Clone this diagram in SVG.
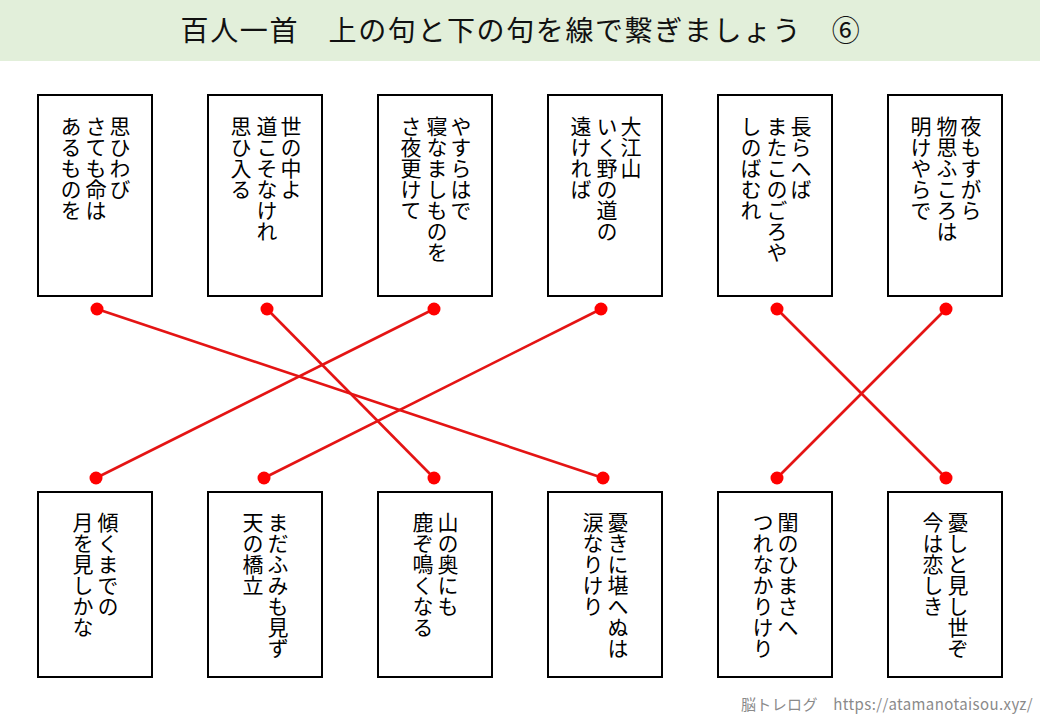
<svg xmlns="http://www.w3.org/2000/svg" width="1040" height="720" viewBox="0 0 1040 720">
<style>
.card{fill:#fff;stroke:#000;stroke-width:2}
.v{font-family:"Noto Sans CJK JP","Noto Sans CJK SC",sans-serif;font-size:21px;fill:#000;writing-mode:vertical-rl;}
.title{font-family:"Noto Sans CJK JP",sans-serif;font-size:28px;letter-spacing:1.6px;fill:#111}
.foot{font-family:"Noto Sans CJK JP",sans-serif;font-size:15px;letter-spacing:0.4px;fill:#8a8a8a}
.ln{stroke:#e41414;stroke-width:2.6;fill:none}
.dot{fill:#f00}
</style>
<rect width="1040" height="720" fill="#fff"/>
<rect x="0" y="0" width="1040" height="61" fill="#e2efda"/>
<text class="title" x="521" y="41" text-anchor="middle" xml:space="preserve">百人一首　上の句と下の句を線で繋ぎましょう　⑥</text>

<g id="top1"><rect class="card" x="38" y="95" width="114" height="201"/>
<text class="v" x="120" y="116">思ひわび</text><text class="v" x="96" y="116">さても命は</text><text class="v" x="71" y="116">あるものを</text></g>
<g id="top2"><rect class="card" x="208" y="95" width="114" height="201"/>
<text class="v" x="291" y="116">世の中よ</text><text class="v" x="267" y="116">道こそなけれ</text><text class="v" x="241" y="116">思ひ入る</text></g>
<g id="top3"><rect class="card" x="378" y="95" width="114" height="201"/>
<text class="v" x="461" y="116">やすらはで</text><text class="v" x="437" y="116">寝なましものを</text><text class="v" x="411" y="116">さ夜更けて</text></g>
<g id="top4"><rect class="card" x="548" y="95" width="114" height="201"/>
<text class="v" x="631" y="116">大江山</text><text class="v" x="607" y="116">いく野の道の</text><text class="v" x="581" y="116">遠ければ</text></g>
<g id="top5"><rect class="card" x="718" y="95" width="114" height="201"/>
<text class="v" x="801" y="116">長らへば</text><text class="v" x="777" y="116">またこのごろや</text><text class="v" x="751" y="116">しのばむれ</text></g>
<g id="top6"><rect class="card" x="888" y="95" width="114" height="201"/>
<text class="v" x="971" y="116">夜もすがら</text><text class="v" x="947" y="116">物思ふころは</text><text class="v" x="921" y="116">明けやらで</text></g>

<g id="bot1"><rect class="card" x="38" y="492" width="114" height="185"/>
<text class="v" x="108" y="512">傾くまでの</text><text class="v" x="83" y="512">月を見しかな</text></g>
<g id="bot2"><rect class="card" x="208" y="492" width="114" height="185"/>
<text class="v" x="278" y="512">まだふみも見ず</text><text class="v" x="253" y="512">天の橋立</text></g>
<g id="bot3"><rect class="card" x="378" y="492" width="114" height="185"/>
<text class="v" x="448" y="512">山の奥にも</text><text class="v" x="423" y="512">鹿ぞ鳴くなる</text></g>
<g id="bot4"><rect class="card" x="548" y="492" width="114" height="185"/>
<text class="v" x="618" y="512">憂きに堪へぬは</text><text class="v" x="593" y="512">涙なりけり</text></g>
<g id="bot5"><rect class="card" x="718" y="492" width="114" height="185"/>
<text class="v" x="788" y="512">閨のひまさへ</text><text class="v" x="763" y="512">つれなかりけり</text></g>
<g id="bot6"><rect class="card" x="888" y="492" width="114" height="185"/>
<text class="v" x="958" y="512">憂しと見し世ぞ</text><text class="v" x="933" y="512">今は恋しき</text></g>

<g id="connectors">
<line class="ln" x1="97" y1="309" x2="603" y2="478"/>
<line class="ln" x1="267" y1="309" x2="434" y2="478"/>
<line class="ln" x1="434" y1="309" x2="96" y2="478"/>
<line class="ln" x1="601" y1="309" x2="264" y2="478"/>
<line class="ln" x1="777" y1="309" x2="946" y2="478"/>
<line class="ln" x1="946" y1="309" x2="777" y2="478"/>
<circle class="dot" cx="97" cy="309" r="6.5"/><circle class="dot" cx="267" cy="309" r="6.5"/><circle class="dot" cx="434" cy="309" r="6.5"/>
<circle class="dot" cx="601" cy="309" r="6.5"/><circle class="dot" cx="777" cy="309" r="6.5"/><circle class="dot" cx="946" cy="309" r="6.5"/>
<circle class="dot" cx="96" cy="478" r="6.5"/><circle class="dot" cx="264" cy="478" r="6.5"/><circle class="dot" cx="434" cy="478" r="6.5"/>
<circle class="dot" cx="603" cy="478" r="6.5"/><circle class="dot" cx="777" cy="478" r="6.5"/><circle class="dot" cx="946" cy="478" r="6.5"/>
</g>

<text class="foot" x="1033" y="710" text-anchor="end" xml:space="preserve">脳トレログ　https://atamanotaisou.xyz/</text>
</svg>
